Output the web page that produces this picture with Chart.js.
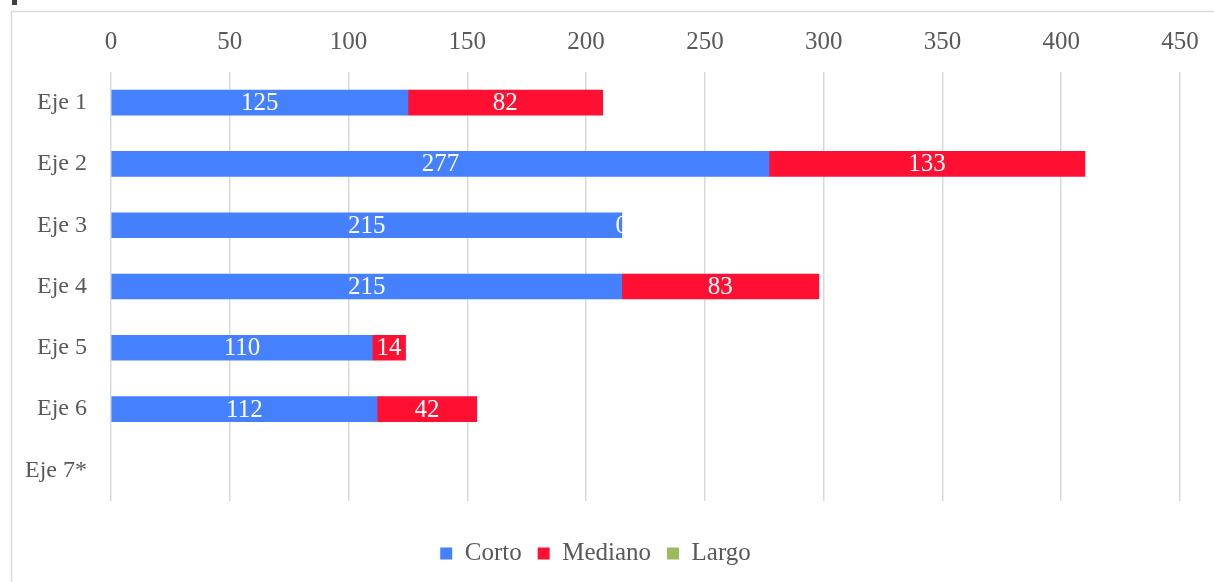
<!DOCTYPE html>
<html>
<head>
<meta charset="utf-8">
<script src="https://cdn.jsdelivr.net/npm/chart.js@4/dist/chart.umd.min.js"></script>
<style>
  html, body { margin: 0; padding: 0; background: #ffffff; }
  #c { display: block; }
</style>
</head>
<body>
<canvas id="c" width="1214" height="582"></canvas>
<script>
const categories = ['Eje 1', 'Eje 2', 'Eje 3', 'Eje 4', 'Eje 5', 'Eje 6', 'Eje 7*'];
const corto   = [125, 277, 215, 215, 110, 112, null];
const mediano = [82, 133, 0, 83, 14, 42, null];
const largo   = [null, null, null, null, null, null, null];
const xTicks  = [0, 50, 100, 150, 200, 250, 300, 350, 400, 450];

const FONT = 'Liberation Serif';
const TEXT = '#595959';

const framePlugin = {
  id: 'frame',
  beforeDraw(chart) {
    const ctx = chart.ctx;
    ctx.save();
    ctx.fillStyle = '#ffffff';
    ctx.fillRect(0, 0, chart.width, chart.height);
    ctx.strokeStyle = '#d9d9d9';
    ctx.lineWidth = 1.5;
    ctx.beginPath();
    ctx.moveTo(11.5, chart.height + 2);
    ctx.lineTo(11.5, 11.5);
    ctx.lineTo(chart.width + 2, 11.5);
    ctx.stroke();
    ctx.fillStyle = '#404040';
    ctx.fillRect(12, 0, 5, 5);
    ctx.restore();
  }
};

const valueLabels = {
  id: 'valueLabels',
  afterDatasetsDraw(chart) {
    const ctx = chart.ctx;
    ctx.save();
    ctx.font = '25px "' + FONT + '"';
    ctx.fillStyle = '#ffffff';
    ctx.textAlign = 'center';
    ctx.textBaseline = 'middle';
    chart.data.datasets.forEach((ds, di) => {
      const meta = chart.getDatasetMeta(di);
      if (meta.hidden) return;
      meta.data.forEach((el, i) => {
        const v = ds.data[i];
        if (v === null || v === undefined) return;
        const x = (el.x + el.base) / 2;
        ctx.fillText(String(v), x, el.y + 1);
      });
    });
    ctx.restore();
  }
};

new Chart(document.getElementById('c'), {
  type: 'bar',
  data: {
    labels: categories,
    datasets: [
      { label: 'Corto', data: corto, backgroundColor: '#4580FF', barThickness: 25, xAxisID: 'x' },
      { label: 'Mediano', data: mediano, backgroundColor: '#FF1033', barThickness: 25, xAxisID: 'x' },
      { label: 'Largo', data: largo, backgroundColor: '#9BBB59', barThickness: 25, xAxisID: 'x' }
    ]
  },
  options: {
    indexAxis: 'y',
    responsive: false,
    devicePixelRatio: 1,
    animation: false,
    events: [],
    layout: { padding: { left: 11, right: 34, top: 11, bottom: 6 } },
    plugins: {
      legend: {
        position: 'bottom',
        labels: {
          boxWidth: 12,
          boxHeight: 12,
          padding: 16,
          color: TEXT,
          font: { family: FONT, size: 25 }
        }
      },
      tooltip: { enabled: false }
    },
    scales: {
      x: {
        position: 'top',
        stacked: true,
        min: 0,
        max: 450,
        afterBuildTicks(s) { s.ticks = xTicks.map(v => ({ value: v })); },
        afterFit(s) { s.height = 61; },
        ticks: { color: TEXT, padding: 15, font: { family: FONT, size: 25 } },
        grid: { color: '#d9d9d9', lineWidth: 1.5, drawTicks: false },
        border: { display: false }
      },
      xb: {
        axis: 'x',
        position: 'bottom',
        display: true,
        afterFit(s) { s.height = 24; },
        ticks: { display: false },
        grid: { display: false, drawTicks: false },
        border: { display: false }
      },
      y: {
        stacked: true,
        afterFit(s) { s.width = 100; },
        ticks: { color: TEXT, padding: 24, font: { family: FONT, size: 24 } },
        grid: { display: false, drawTicks: false },
        border: { display: false }
      }
    }
  },
  plugins: [framePlugin, valueLabels]
});
</script>
</body>
</html>
